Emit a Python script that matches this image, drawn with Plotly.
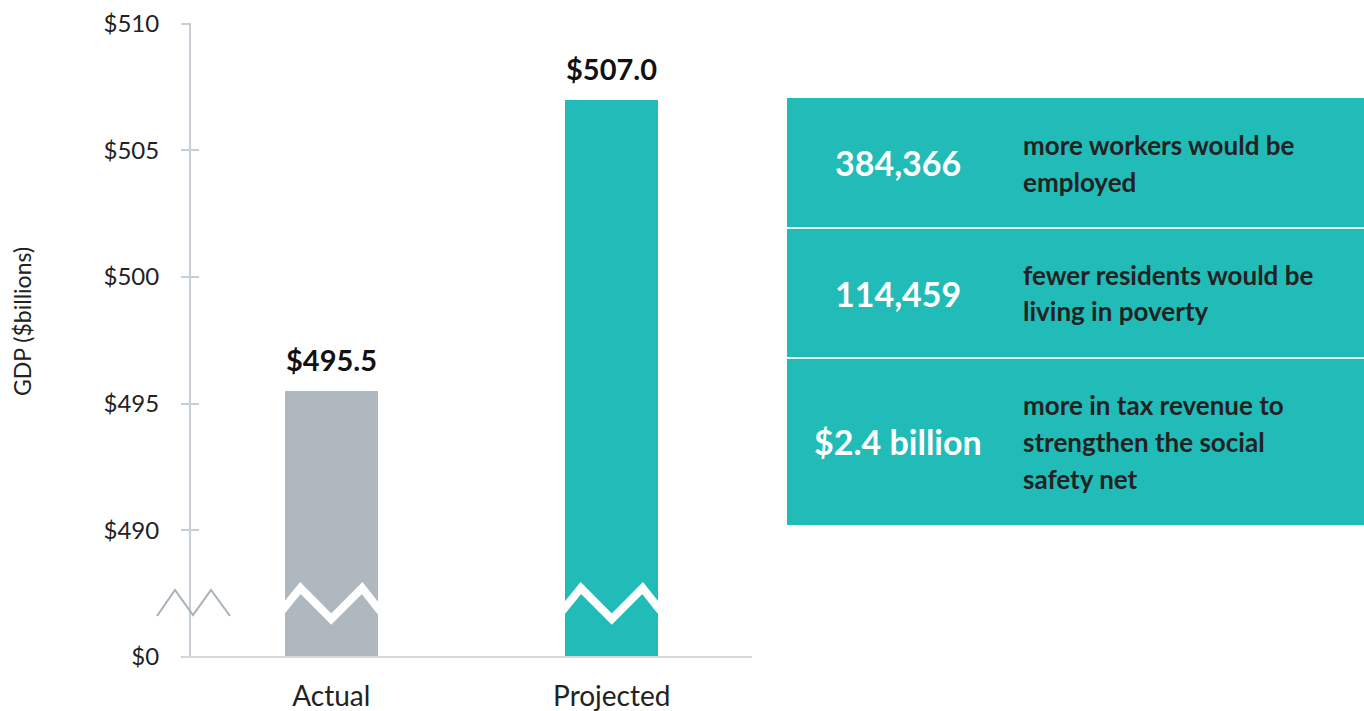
import plotly.graph_objects as go

# Data
categories = ["Actual", "Projected"]
gdp_values = [495.5, 507.0]
bar_colors = ["#aeb8be", "#22bcb8"]

# broken axis: the bottom tick stands in for $0
axis_base = 485
tick_values = [485, 490, 495, 500, 505, 510]
tick_labels = ["$0", "$490", "$495", "$500", "$505", "$510"]

stat_values = ["384,366", "114,459", "$2.4 billion"]
stat_lines = [
    ["more workers would be", "employed"],
    ["fewer residents would be", "living in poverty"],
    ["more in tax revenue to", "strengthen the social", "safety net"],
]

FONT = "Lato"
TEAL = "#22bcb8"
AXIS_GREY = "#c8ced6"

W, H = 1364, 711
ML, MR, MT, MB = 191, 0, 23, 54
PW, PH = W - ML - MR, H - MT - MB


def px(x):
    # screen pixel x -> paper x
    return (x - ML) / PW


def py(y):
    # screen pixel y -> paper y
    return (H - MB - y) / PH


xs = list(range(len(categories)))

fig = go.Figure()

fig.add_trace(go.Bar(
    x=xs, y=gdp_values, width=0.33,
    marker=dict(color=bar_colors, line=dict(width=0)),
    hoverinfo="skip", showlegend=False,
))

# white zigzag "break" across each bar
zz_dx = [-0.2, -0.165, -0.11, 0.0, 0.11, 0.165, 0.2]
zz_y = [486.5, 486.95, 487.72, 486.5, 487.72, 486.95, 486.5]
for i in xs:
    fig.add_trace(go.Scatter(
        x=[i + d for d in zz_dx], y=zz_y, mode="lines",
        line=dict(color="white", width=8),
        hoverinfo="skip", showlegend=False,
    ))

# dummy trace so the overlaying axis (inner half of the ticks) is drawn
fig.add_trace(go.Scatter(
    x=xs, y=gdp_values, yaxis="y2", mode="markers",
    marker=dict(opacity=0), hoverinfo="skip", showlegend=False,
))

# value labels above the bars
for i, v in zip(xs, gdp_values):
    fig.add_annotation(
        x=i, y=v, xref="x", yref="y", text=f"<b>${v:.1f}</b>",
        showarrow=False, yanchor="bottom", yshift=12,
        font=dict(family=FONT, size=29, color="#111"),
    )

# axis break mark on the y axis
fig.add_shape(
    type="path", xref="paper", yref="paper",
    path="M {},{} L {},{} L {},{} L {},{} L {},{}".format(
        px(157), py(616), px(175), py(590), px(193), py(615),
        px(211), py(590), px(230), py(616)),
    line=dict(color="#a9b1b8", width=2),
)

# baseline
fig.add_shape(
    type="line", xref="paper", yref="paper",
    x0=px(183), x1=px(752), y0=py(657), y1=py(657),
    line=dict(color="#d9d9d9", width=2),
)

# stat panel
panel_rows = [(98, 228), (228, 358), (358, 525)]
fig.add_shape(
    type="rect", xref="paper", yref="paper", layer="below",
    x0=px(787), x1=1.0, y0=py(525), y1=py(98),
    fillcolor=TEAL, line=dict(width=0),
)
for top, _ in panel_rows[1:]:
    fig.add_shape(
        type="line", xref="paper", yref="paper",
        x0=px(787), x1=1.0, y0=py(top), y1=py(top),
        line=dict(color="#e8f6f6", width=2),
    )

for (top, bottom), val, lines in zip(panel_rows, stat_values, stat_lines):
    mid = (top + bottom) / 2
    fig.add_annotation(
        x=px(898), y=py(mid), xref="paper", yref="paper",
        text=f"<b>{val}</b>", showarrow=False,
        xanchor="center", yanchor="middle",
        font=dict(family=FONT, size=34, color="white"),
    )
    n = len(lines)
    for k, line in enumerate(lines):
        ly = mid + (k - (n - 1) / 2) * 37
        fig.add_annotation(
            x=px(1021), y=py(ly), xref="paper", yref="paper",
            text=f"<b>{line}</b>", showarrow=False,
            xanchor="left", yanchor="middle",
            font=dict(family=FONT, size=26, color="#222"),
        )

# y axis title
fig.add_annotation(
    x=px(22), y=py(322), xref="paper", yref="paper",
    text="GDP ($billions)", textangle=-90, showarrow=False,
    xanchor="center", yanchor="middle",
    font=dict(family=FONT, size=23, color="#222"),
)

fig.update_layout(
    width=W, height=H,
    margin=dict(l=ML, r=MR, t=MT, b=MB, pad=0),
    plot_bgcolor="white", paper_bgcolor="white",
    font=dict(family=FONT, color="#222"),
    bargap=0,
    xaxis=dict(
        domain=[0, px(752)], range=[-0.5, 1.5],
        tickvals=xs, ticktext=categories,
        showgrid=False, zeroline=False, showline=False, ticks="",
        ticklabelstandoff=20,
        tickfont=dict(family=FONT, size=28, color="#222"),
        fixedrange=True,
    ),
    yaxis=dict(
        range=[axis_base, 510.02], tickvals=tick_values, ticktext=tick_labels,
        showgrid=False, zeroline=False,
        showline=True, linecolor=AXIS_GREY, linewidth=2,
        ticks="outside", ticklen=8, tickwidth=2, tickcolor=AXIS_GREY,
        ticklabelstandoff=17,
        tickfont=dict(family=FONT, size=24, color="#222"),
        fixedrange=True,
    ),
    yaxis2=dict(
        overlaying="y", side="left", anchor="x",
        range=[axis_base, 510.02], tickvals=tick_values,
        showticklabels=False, showgrid=False, zeroline=False, showline=False,
        ticks="inside", ticklen=8, tickwidth=2, tickcolor=AXIS_GREY,
        fixedrange=True,
    ),
)

# drop the default 8px body margin so the figure fills the window
fig.write_html(
    "out.html",
    config={"displayModeBar": False},
    post_script="document.body.style.margin='0';",
)
